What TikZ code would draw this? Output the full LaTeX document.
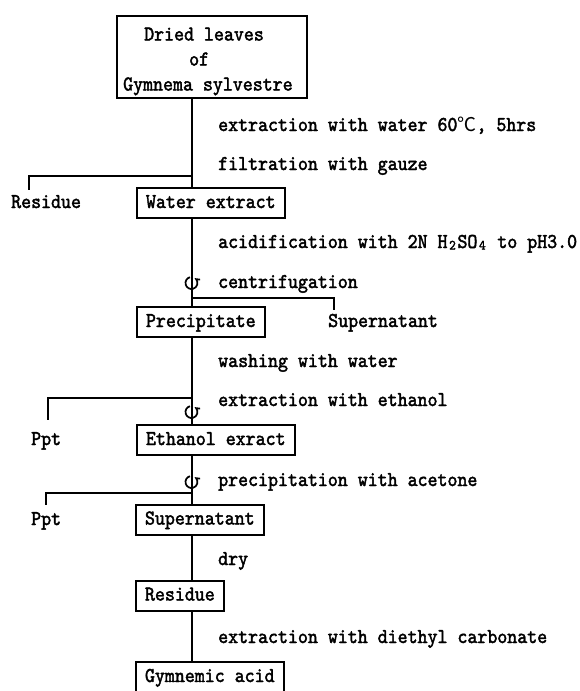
\documentclass[tikz,border=0pt]{standalone}
\usepackage{fontspec}
\newfontfamily\cjkfont{Noto Sans CJK JP}
\newfontfamily\lmmono{lmmono10-regular.otf}[FakeStretch=0.9,FakeBold=2]
\newcommand\tfont{\lmmono\fontsize{21.1}{25}\selectfont}
\newcommand\subdig[1]{\makebox[9.97pt][c]{\raisebox{-1.5pt}{\fontsize{14}{14}\selectfont #1}}}
\newcommand\degC{{\cjkfont\fontsize{19}{19}\selectfont ℃}}
\tikzset{
  lbl/.style={anchor=base west, inner sep=0pt, font=\tfont},
  stepbox/.style={draw, line width=2pt, anchor=west, inner xsep=9pt, inner ysep=0pt,
    minimum height=30pt, text height=14pt, text depth=4pt, font=\tfont},
  ln/.style={line width=2pt},
  cfg/.style={line width=1.7pt}
}
\newcommand\centri[1]{\draw[cfg] (#1) ++(-105:6) arc[start angle=-105, end angle=-400, radius=6] -- ++(4,0.5);}
\begin{document}
\begin{tikzpicture}[x=1pt,y=-1pt]
\useasboundingbox (0,0) rectangle (579,691);
\clip (0,0) rectangle (579,691);
\coordinate (mx) at (191.5,0);
% top box
\node[draw, line width=2pt, minimum width=190pt, minimum height=82pt, anchor=north west, inner sep=0pt] (src) at (116,15) {};
\node[lbl] (src1) at (144,40.5) {Dried leaves};
\node[lbl] (src2) at (189,65.5) {of};
\node[lbl] (src3) at (123,90.5) {Gymnema sylvestre};
% boxes
\node[stepbox] (water) at (136,203) {Water extract};
\node[stepbox] (prec) at (136,322) {Precipitate};
\node[stepbox] (eth) at (136,440) {Ethanol exract};
\node[stepbox] (sup) at (135,519.5) {Supernatant};
\node[stepbox] (resid) at (135,595.5) {Residue};
\node[stepbox] (gym) at (135,677) {Gymnemic acid};
% main line
\draw[ln] (src.south -| mx) -- (water.north -| mx);
\draw[ln] (water.south -| mx) -- (prec.north -| mx);
\draw[ln] (prec.south -| mx) -- (eth.north -| mx);
\draw[ln] (eth.south -| mx) -- (sup.north -| mx);
\draw[ln] (sup.south -| mx) -- (resid.north -| mx);
\draw[ln] (resid.south -| mx) -- (gym.north -| mx);
% branches
\coordinate (j1) at (191.5,176); \coordinate (e1) at (29,190);
\draw[ln] (j1) -| (e1);
\coordinate (j2) at (191.5,298); \coordinate (e2) at (333.5,309.5);
\draw[ln] (j2) -| (e2);
\coordinate (j3) at (191.5,398); \coordinate (e3) at (48,420);
\draw[ln] (j3) -| (e3);
\coordinate (j4) at (191.5,493); \coordinate (e4) at (46,505);
\draw[ln] (j4) -| (e4);
% centrifuge symbols
\coordinate (c1) at (191.5,283);
\coordinate (c2) at (191.5,412);
\coordinate (c3) at (191.5,482);
\centri{c1}\centri{c2}\centri{c3}
% side products
\node[lbl] (resl) at (11,208) {Residue};
\node[lbl] (supl) at (328,327) {Supernatant};
\node[lbl] (ppt1) at (31,445) {Ppt};
\node[lbl] (ppt2) at (31,525) {Ppt};
% operations
\node[lbl] (op1) at (218,131) {extraction with water 60\degC, 5hrs};
\node[lbl] (op2) at (218,170) {filtration with gauze};
\node[lbl] (op3) at (218,248) {acidification with 2N H\subdig{2}SO\subdig{4} to pH3.0};
\node[lbl] (op4) at (218,288) {centrifugation};
\node[lbl] (op5) at (218,367) {washing with water};
\node[lbl] (op6) at (218,406) {extraction with ethanol};
\node[lbl] (op7) at (218,486) {precipitation with acetone};
\node[lbl] (op8) at (218,565) {dry};
\node[lbl] (op9) at (218,643) {extraction with diethyl carbonate};
\end{tikzpicture}
\end{document}
